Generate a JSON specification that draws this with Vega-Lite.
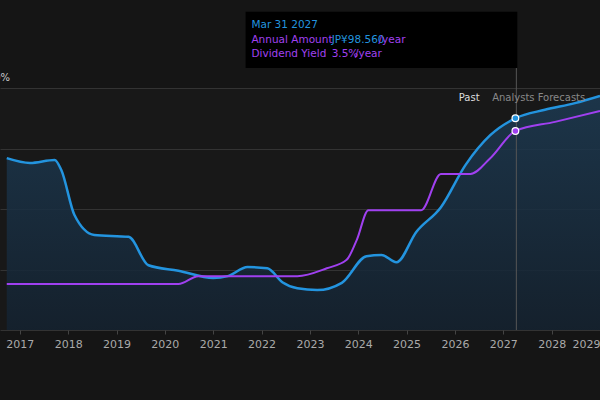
{
  "$schema": "https://vega.github.io/schema/vega-lite/v6.json",
  "width": 600,
  "height": 242,
  "autosize": "none",
  "padding": {"top": 88, "left": 0, "right": 0, "bottom": 70},
  "background": "#151515",
  "view": {"fill": "#181818", "stroke": null},
  "config": {"font": "DejaVu Sans", "axis": {"labelColor": "#aaaaaa", "labelFontSize": 11, "gridColor": "#333333", "domain": false, "tickColor": "#444444"}},
  "datasets": {
    "yield": [
      {"t": 2016.73, "v": 2.84}, {"t": 2017.21, "v": 2.76}, {"t": 2017.72, "v": 2.81}, {"t": 2017.86, "v": 2.64},
      {"t": 2018.13, "v": 1.9}, {"t": 2018.54, "v": 1.57}, {"t": 2019.25, "v": 1.54}, {"t": 2019.66, "v": 1.07},
      {"t": 2020.28, "v": 0.98}, {"t": 2021.0, "v": 0.86}, {"t": 2021.3, "v": 0.89}, {"t": 2021.71, "v": 1.04},
      {"t": 2022.12, "v": 1.02}, {"t": 2022.43, "v": 0.79}, {"t": 2022.74, "v": 0.69}, {"t": 2023.15, "v": 0.66},
      {"t": 2023.66, "v": 0.78}, {"t": 2024.17, "v": 1.22}, {"t": 2024.48, "v": 1.24}, {"t": 2024.79, "v": 1.12},
      {"t": 2025.2, "v": 1.62}, {"t": 2025.71, "v": 2.03}, {"t": 2026.22, "v": 2.73}, {"t": 2026.73, "v": 3.22},
      {"t": 2027.25, "v": 3.5}, {"t": 2027.86, "v": 3.64}, {"t": 2028.48, "v": 3.75}, {"t": 2029.0, "v": 3.87}
    ],
    "amount": [
      {"t": 2016.73, "v": 0.76}, {"t": 2020.28, "v": 0.76}, {"t": 2020.69, "v": 0.89}, {"t": 2022.74, "v": 0.89},
      {"t": 2023.35, "v": 1.02}, {"t": 2023.76, "v": 1.16}, {"t": 2023.97, "v": 1.49}, {"t": 2024.21, "v": 1.98},
      {"t": 2025.3, "v": 1.98}, {"t": 2025.71, "v": 2.58}, {"t": 2026.32, "v": 2.58}, {"t": 2026.73, "v": 2.84},
      {"t": 2027.25, "v": 3.29}, {"t": 2028.07, "v": 3.44}, {"t": 2029.0, "v": 3.62}
    ],
    "dots": [{"t": 2027.25, "v": 3.5, "s": "yield"}, {"t": 2027.25, "v": 3.29, "s": "amount"}],
    "legend": [
      {"x0": 2016.3, "x1": 2018.13, "label": "Dividend Yield", "lx": 2016.65, "cx": 2016.5, "col": "#2394df", "fill": "#2394df", "bg": "#2a2a2a"},
      {"x0": 2018.23, "x1": 2020.59, "label": "Dividend Payments", "lx": 2018.7, "cx": 2018.48, "col": "#5fd3e8", "fill": "#1f1f1f", "bg": "#1f1f1f"},
      {"x0": 2020.75, "x1": 2022.78, "label": "Annual Amount", "lx": 2021.24, "cx": 2021.02, "col": "#a040f0", "fill": "#a040f0", "bg": "#2e2e2e"},
      {"x0": 2022.88, "x1": 2025.26, "label": "Earnings Per Share", "lx": 2023.39, "cx": 2023.15, "col": "#c0507a", "fill": "#1f1f1f", "bg": "#1f1f1f"}
    ]
  },
  "encoding": {
    "x": {"field": "t", "type": "quantitative", "scale": {"domain": [2016.59, 2029.0], "nice": false, "zero": false},
      "axis": {"values": [2017, 2018, 2019, 2020, 2021, 2022, 2023, 2024, 2025, 2026, 2027, 2028, 2029], "format": "d", "grid": false, "title": null, "tickSize": 4, "labelPadding": 4}},
    "y": {"field": "v", "type": "quantitative", "scale": {"domain": [0, 4], "nice": false},
      "axis": {"values": [0, 1, 2, 3, 4], "labels": false, "ticks": false, "title": null, "grid": true}}
  },
  "layer": [
    {"data": {"values": [{"t": 2026.28, "t2": 2026.63}]}, "mark": {"type": "rect", "color": "#2a2820", "opacity": 0.9},
      "encoding": {"x2": {"field": "t2"}, "y": {"datum": 0}, "y2": {"datum": 4}}},
    {"data": {"values": [{"t": 2026.63, "t2": 2027.27}]}, "mark": {"type": "rect", "color": "#4a3f2a", "opacity": 0.8},
      "encoding": {"x2": {"field": "t2"}, "y": {"datum": 0}, "y2": {"datum": 4}}},
    {"data": {"name": "yield"}, "mark": {"type": "area", "interpolate": "monotone", "clip": true,
      "color": {"gradient": "linear", "x1": 0, "y1": 0, "x2": 0, "y2": 1, "stops": [{"offset": 0, "color": "#1d3a52"}, {"offset": 1, "color": "#142230"}]}, "opacity": 0.85}},
    {"data": {"name": "yield"}, "mark": {"type": "line", "interpolate": "monotone", "color": "#2394df", "strokeWidth": 2.5, "clip": true}},
    {"data": {"name": "amount"}, "mark": {"type": "line", "interpolate": "monotone", "color": "#a040f0", "strokeWidth": 2, "clip": true}},
    {"data": {"values": [{"t": 2027.27, "v": 0, "v2": 4.33}]}, "mark": {"type": "rule", "color": "#555555", "strokeWidth": 1, "clip": false},
      "encoding": {"y2": {"field": "v2"}}},
    {"data": {"name": "dots"}, "mark": {"type": "point", "filled": true, "size": 45, "stroke": "#ffffff", "strokeWidth": 1.2, "opacity": 1},
      "encoding": {"color": {"field": "s", "type": "nominal", "scale": {"domain": ["yield", "amount"], "range": ["#2394df", "#a040f0"]}, "legend": null}}},
    {"data": {"values": [{"t": 2026.51, "v": 3.83, "txt": "Past"}]}, "mark": {"type": "text", "align": "right", "color": "#dddddd", "fontSize": 10},
      "encoding": {"text": {"field": "txt"}}},
    {"data": {"values": [{"t": 2026.77, "v": 3.83, "txt": "Analysts Forecasts"}]}, "mark": {"type": "text", "align": "left", "color": "#888888", "fontSize": 10},
      "encoding": {"text": {"field": "txt"}}},
    {"data": {"values": [{"t": 2016.59, "v": 4.17, "txt": "10%"}]}, "mark": {"type": "text", "align": "right", "dx": 10, "color": "#cccccc", "fontSize": 10, "clip": false},
      "encoding": {"text": {"field": "txt"}}},
    {"data": {"values": [{"t": 2021.67, "t2": 2027.29, "v": 5.26, "v2": 4.33}]}, "mark": {"type": "rect", "color": "#000000", "clip": false},
      "encoding": {"x2": {"field": "t2"}, "y2": {"field": "v2"}}},
    {"data": {"values": [
      {"t": 2021.79, "v": 5.04, "txt": "Mar 31 2027", "c": "white"},
      {"t": 2021.79, "v": 4.79, "txt": "Annual Amount", "c": "grey"},
      {"t": 2023.45, "v": 4.79, "txt": "JP¥98.560", "c": "purple"},
      {"t": 2024.42, "v": 4.79, "txt": "/year", "c": "grey"},
      {"t": 2021.79, "v": 4.56, "txt": "Dividend Yield", "c": "grey"},
      {"t": 2023.45, "v": 4.56, "txt": "3.5%", "c": "blue"},
      {"t": 2023.93, "v": 4.56, "txt": "/year", "c": "grey"}
    ]}, "mark": {"type": "text", "align": "left", "fontSize": 10.5, "clip": false},
      "encoding": {"text": {"field": "txt"}, "color": {"field": "c", "type": "nominal", "legend": null,
        "scale": {"domain": ["white", "grey", "purple", "blue"], "range": ["#ffffff", "#999999", "#a040f0", "#2ba3ee"]}}}},
    {"data": {"name": "legend"}, "mark": {"type": "rect", "cornerRadius": 4, "clip": false, "stroke": "#3a3a3a", "strokeWidth": 1},
      "encoding": {"x": {"field": "x0", "type": "quantitative"}, "x2": {"field": "x1"}, "y": {"datum": -0.53}, "y2": {"datum": -0.96},
        "fill": {"field": "bg", "type": "nominal", "scale": null}}},
    {"data": {"name": "legend"}, "mark": {"type": "point", "shape": "circle", "size": 40, "strokeWidth": 1.2, "clip": false, "opacity": 1},
      "encoding": {"x": {"field": "cx", "type": "quantitative"}, "y": {"datum": -0.745},
        "stroke": {"field": "col", "type": "nominal", "scale": null}, "fill": {"field": "fill", "type": "nominal", "scale": null}}},
    {"data": {"name": "legend"}, "mark": {"type": "text", "align": "left", "color": "#dddddd", "fontSize": 11, "clip": false},
      "encoding": {"x": {"field": "lx", "type": "quantitative"}, "y": {"datum": -0.745}, "text": {"field": "label"}}}
  ]
}
